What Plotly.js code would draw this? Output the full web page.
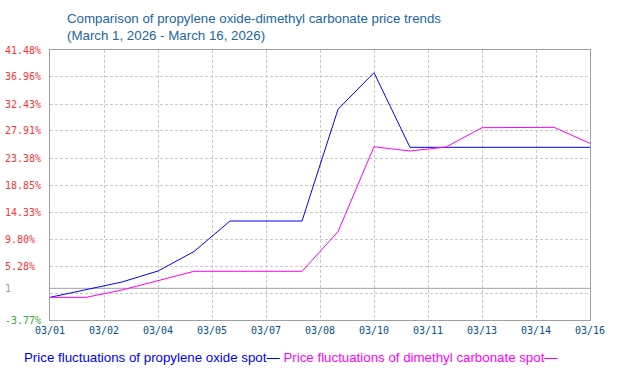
<!DOCTYPE html>
<html>
<head>
<meta charset="utf-8">
<script src="https://cdn.plot.ly/plotly-3.0.1.min.js"></script>
<style>
html,body{margin:0;padding:0;background:#fff;}
#chart{width:622px;height:380px;}
</style>
</head>
<body>
<div id="chart"></div>
<script>
// ---- data ----
var dates = ['2026-03-01','2026-03-02','2026-03-03','2026-03-04','2026-03-05','2026-03-06','2026-03-07','2026-03-08',
             '2026-03-09','2026-03-10','2026-03-11','2026-03-12','2026-03-13','2026-03-14','2026-03-15','2026-03-16'];
var propyleneOxide = [0.03, 1.34, 2.60, 4.44, 7.71, 12.82, 12.82, 12.82, 31.54, 37.68, 25.17, 25.17, 25.17, 25.17, 25.17, 25.17];
var dimethylCarbonate = [0.03, 0.03, 1.26, 2.77, 4.39, 4.39, 4.39, 4.39, 11.03, 25.27, 24.55, 25.22, 28.46, 28.46, 28.52, 25.84];
var xTickVals = ['2026-03-01 00:00','2026-03-02 12:00','2026-03-04 00:00','2026-03-05 12:00','2026-03-07 00:00','2026-03-08 12:00',
                 '2026-03-10 00:00','2026-03-11 12:00','2026-03-13 00:00','2026-03-14 12:00','2026-03-16 00:00'];
var xTickText = ['03/01','03/02','03/04','03/05','03/07','03/08','03/10','03/11','03/13','03/14','03/16'];
var yTickVals = [-3.77, 0.755, 5.28, 9.80, 14.33, 18.85, 23.38, 27.91, 32.43, 36.96, 41.48];
var yTickText = ['-3.77%', '', '5.28%', '9.80%', '14.33%', '18.85%', '23.38%', '27.91%', '32.43%', '36.96%', '41.48%'];
var baseLineValue = 1.54;
var baseLineLabel = '1';
var seriesNames = ['Price fluctuations of propylene oxide spot', 'Price fluctuations of dimethyl carbonate spot'];
var titleLines = ['Comparison of propylene oxide-dimethyl carbonate price trends', '(March 1, 2026 - March 16, 2026)'];

var blue = '#0000ff', magenta = '#ff00ff';
var traces = [
  {x: dates, y: propyleneOxide, type: 'scatter', mode: 'lines', name: seriesNames[0],
   line: {color: blue, width: 1}, hoverinfo: 'skip'},
  {x: dates, y: dimethylCarbonate, type: 'scatter', mode: 'lines', name: seriesNames[1],
   line: {color: magenta, width: 1}, hoverinfo: 'skip'}
];

var monoFont = 'DejaVu Sans Mono, Liberation Mono, monospace';
var sansFont = 'Liberation Sans, Arial, sans-serif';
var annotations = [];
// title (two lines, left aligned)
annotations.push({xref:'paper', yref:'paper', x:0.0278, y:1.152, xanchor:'left', yanchor:'top', align:'left',
  showarrow:false, text: titleLines.join('<br>'),
  font:{family: sansFont, size:13.3, color:'#2266a0'}});
// y tick labels, left aligned
yTickVals.forEach(function(v, i){
  if (!yTickText[i]) return;
  annotations.push({xref:'paper', yref:'y', x:-0.087, y:v, xanchor:'left', yanchor:'middle',
    text: yTickText[i], showarrow:false,
    font:{family: monoFont, size:10, color: v < 0 ? '#33aa33' : '#ff3333'}});
});
annotations.push({xref:'paper', yref:'y', x:-0.087, y:baseLineValue, xanchor:'left', yanchor:'middle',
  text: baseLineLabel, showarrow:false, font:{family: monoFont, size:10, color:'#999999'}});
// legend line
annotations.push({xref:'paper', yref:'paper', x:-0.052, y:-0.139, xanchor:'left', yanchor:'middle', showarrow:false,
  text: '<span style="color:'+blue+'">'+seriesNames[0]+'—</span> <span style="color:'+magenta+'">'+seriesNames[1]+'—</span>',
  font:{family: sansFont, size:13.3}});

var layout = {
  width: 622, height: 380,
  margin: {l: 50, r: 32, t: 50, b: 60},
  paper_bgcolor: '#ffffff', plot_bgcolor: '#ffffff',
  showlegend: false,
  xaxis: {type: 'date', range: ['2026-03-01', '2026-03-16'], tickmode: 'array',
          tickvals: xTickVals, ticktext: xTickText, ticks: '', ticklabelstandoff: 1,
          showgrid: true, gridcolor: '#c8c8c8', griddash: '3px,2px', gridwidth: 1,
          showline: true, linecolor: '#a0a0a0', linewidth: 1, mirror: true, zeroline: false,
          tickfont: {family: monoFont, size: 10, color: '#0a5088'}, fixedrange: true},
  yaxis: {range: [-3.77, 41.48], tickmode: 'array', tickvals: yTickVals, showticklabels: false, ticks: '',
          showgrid: true, gridcolor: '#c8c8c8', griddash: '3px,2px', gridwidth: 1,
          showline: true, linecolor: '#a0a0a0', linewidth: 1, mirror: true, zeroline: false, fixedrange: true},
  shapes: [{type: 'line', xref: 'paper', yref: 'y', x0: 0, x1: 1, y0: baseLineValue, y1: baseLineValue,
            line: {color: '#a0a0a0', width: 1}, layer: 'below'}],
  annotations: annotations
};
Plotly.newPlot('chart', traces, layout, {displayModeBar: false, staticPlot: true});
</script>
</body>
</html>
